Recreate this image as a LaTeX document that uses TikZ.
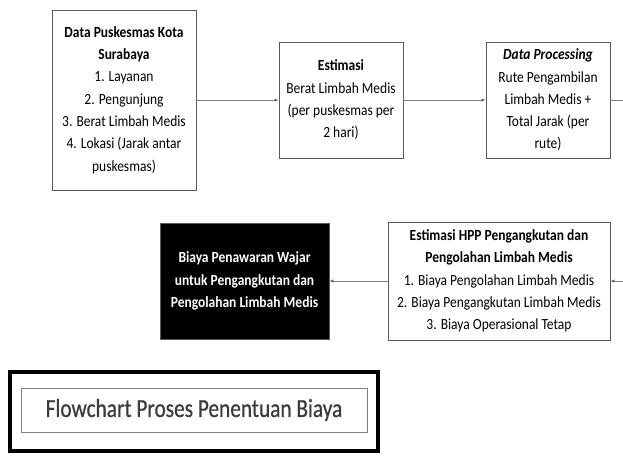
\documentclass[tikz,border=0pt]{standalone}
\usepackage{fontspec}
\setmainfont{Carlito}
\newfontfamily\isi{Carlito}[FakeStretch=0.87]
\newfontfamily\judulfont{Carlito}[FakeStretch=0.82,FakeBold=0.7]
\usetikzlibrary{arrows.meta}
\definecolor{garis}{HTML}{5A5A5A}
\definecolor{judulteks}{HTML}{3C3C3C}
\begin{document}
\begin{tikzpicture}[x=1pt, y=-1pt,
        kotak/.style={draw=garis, line width=0.9pt, align=center, inner sep=0pt,
            font=\isi\fontsize{15.5}{22.3}\selectfont},
        panah/.style={draw=gray, line width=0.6pt, -{Latex[length=4pt,width=3.5pt,fill=black]}},
        garisan/.style={draw=gray, line width=0.6pt}]
    \useasboundingbox (0,0) rectangle (623,455);

        \node[kotak, minimum width=144pt, minimum height=180pt] (puskesmas) at(124, 100)
            {\textbf{Data Puskesmas Kota}\\ \textbf{Surabaya}\\ 1. Layanan\\ 2. Pengunjung\\
             3. Berat Limbah Medis\\ 4. Lokasi (Jarak antar\\ puskesmas)};
        \node[kotak, minimum width=124pt, minimum height=116pt] (estimasi) at(341, 100)
            {\textbf{Estimasi}\\ Berat Limbah Medis\\ (per puskesmas per\\ 2 hari)};
        \node[kotak, minimum width=124pt, minimum height=116pt] (proses) at(548, 100)
            {\textbf{\textit{Data Processing}}\\ Rute Pengambilan\\ Limbah Medis +\\ Total Jarak (per\\ rute)};
        \node[kotak, minimum width=222pt, minimum height=118pt] (hpp) at(499, 281)
            {\textbf{Estimasi HPP Pengangkutan dan}\\ \textbf{Pengolahan Limbah Medis}\\
             1. Biaya Pengolahan Limbah Medis\\ 2. Biaya Pengangkutan Limbah Medis\\ 3. Biaya Operasional Tetap};
        \node[kotak, fill=black, text=white, minimum width=169pt, minimum height=116pt] (tawar) at(244.5, 281)
            {\textbf{Biaya Penawaran Wajar}\\ \textbf{untuk Pengangkutan dan}\\ \textbf{Pengolahan Limbah Medis}};

        \coordinate (keluar) at(623, 100);
        \coordinate (masuk) at(623, 281);

        \draw[panah] (puskesmas) -- (estimasi);
        \draw[panah] (estimasi) -- (proses);
        \draw[garisan] (proses.east) -- (keluar);
        \draw[panah] (masuk) -- (hpp.east);
        \draw[panah] (hpp) -- (tawar);

        % judul
        \node[draw=black, line width=4.5pt, minimum width=368pt, minimum height=79pt] (bingkai) at(194, 411.5){};
        \node[draw=gray, line width=0.8pt, minimum width=346pt, minimum height=44pt, text=judulteks,
            font=\judulfont\fontsize{26}{30}\selectfont] (judul) at(194, 410){Flowchart Proses Penentuan Biaya};
    \end{tikzpicture}
\end{document}
